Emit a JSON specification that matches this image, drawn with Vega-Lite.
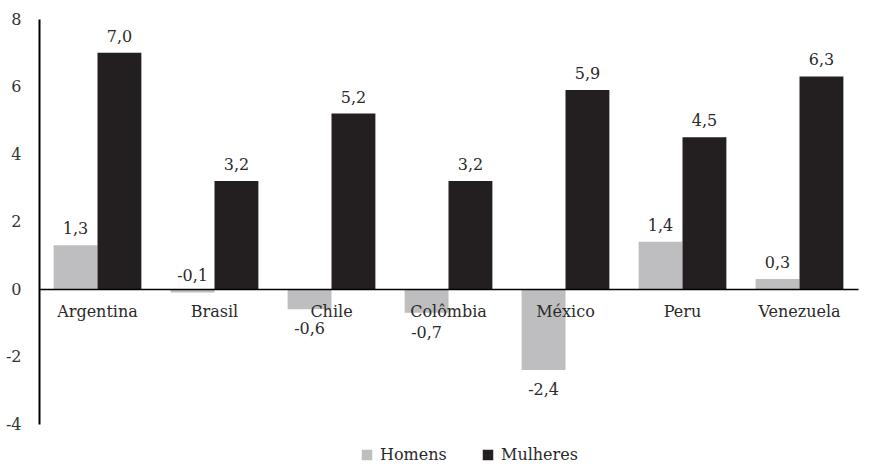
{
  "$schema": "https://vega.github.io/schema/vega-lite/v6.json",
  "autosize": "none",
  "padding": {"left": 39, "top": 19, "right": 15, "bottom": 44},
  "width": 819,
  "height": 405,
  "background": "white",
  "config": {
    "view": {"stroke": null},
    "font": "DejaVu Serif",
    "locale": {"number": {"decimal": ",", "thousands": ".", "grouping": [3], "currency": ["", ""], "minus": "-"}}
  },
  "data": {
    "values": [
      {"pais": "Argentina", "sexo": "Homens", "valor": 1.3},
      {"pais": "Argentina", "sexo": "Mulheres", "valor": 7.0},
      {"pais": "Brasil", "sexo": "Homens", "valor": -0.1},
      {"pais": "Brasil", "sexo": "Mulheres", "valor": 3.2},
      {"pais": "Chile", "sexo": "Homens", "valor": -0.6},
      {"pais": "Chile", "sexo": "Mulheres", "valor": 5.2},
      {"pais": "Colômbia", "sexo": "Homens", "valor": -0.7},
      {"pais": "Colômbia", "sexo": "Mulheres", "valor": 3.2},
      {"pais": "México", "sexo": "Homens", "valor": -2.4},
      {"pais": "México", "sexo": "Mulheres", "valor": 5.9},
      {"pais": "Peru", "sexo": "Homens", "valor": 1.4},
      {"pais": "Peru", "sexo": "Mulheres", "valor": 4.5},
      {"pais": "Venezuela", "sexo": "Homens", "valor": 0.3},
      {"pais": "Venezuela", "sexo": "Mulheres", "valor": 6.3}
    ]
  },
  "encoding": {
    "x": {
      "field": "pais", "type": "nominal", "sort": null,
      "scale": {"paddingInner": 0.25, "paddingOuter": 0.125},
      "axis": {
        "title": null, "labelAngle": 0, "ticks": false, "offset": -135, "zindex": 1,
        "domainColor": "#000000", "domainWidth": 1.5,
        "labelFontSize": 16, "labelColor": "#2a2a2a", "labelPadding": 14,
        "labelFont": "DejaVu Serif"
      }
    },
    "xOffset": {"field": "sexo", "type": "nominal", "sort": ["Homens", "Mulheres"]},
    "y": {
      "field": "valor", "type": "quantitative",
      "scale": {"domain": [-4, 8], "nice": false},
      "axis": {
        "title": null, "values": [-4, -2, 0, 2, 4, 6, 8], "format": "d",
        "grid": false, "ticks": false, "domainColor": "#000000", "domainWidth": 2,
        "labelFontSize": 16, "labelColor": "#333333", "labelPadding": 18,
        "labelFont": "DejaVu Serif"
      }
    }
  },
  "layer": [
    {
      "mark": {"type": "bar"},
      "encoding": {
        "color": {
          "field": "sexo", "type": "nominal",
          "scale": {"domain": ["Homens", "Mulheres"], "range": ["#BEBEC0", "#231F20"]},
          "legend": {
            "title": null, "orient": "none", "direction": "horizontal",
            "legendX": 320, "legendY": 428,
            "symbolType": "square", "symbolSize": 110, "symbolStrokeWidth": 0,
            "labelFontSize": 16, "labelColor": "#2a2a2a", "labelFont": "DejaVu Serif",
            "columnPadding": 33, "labelOffset": 5
          }
        }
      }
    },
    {
      "transform": [{"filter": "datum.valor >= -0.1"}],
      "mark": {"type": "text", "baseline": "bottom", "dy": -8, "fontSize": 16, "color": "#2a2a2a"},
      "encoding": {"text": {"field": "valor", "type": "quantitative", "format": ".1f"}}
    },
    {
      "transform": [{"filter": "datum.valor < -0.1"}],
      "mark": {"type": "text", "baseline": "top", "dy": 12, "fontSize": 16, "color": "#2a2a2a"},
      "encoding": {"text": {"field": "valor", "type": "quantitative", "format": ".1f"}}
    }
  ]
}
